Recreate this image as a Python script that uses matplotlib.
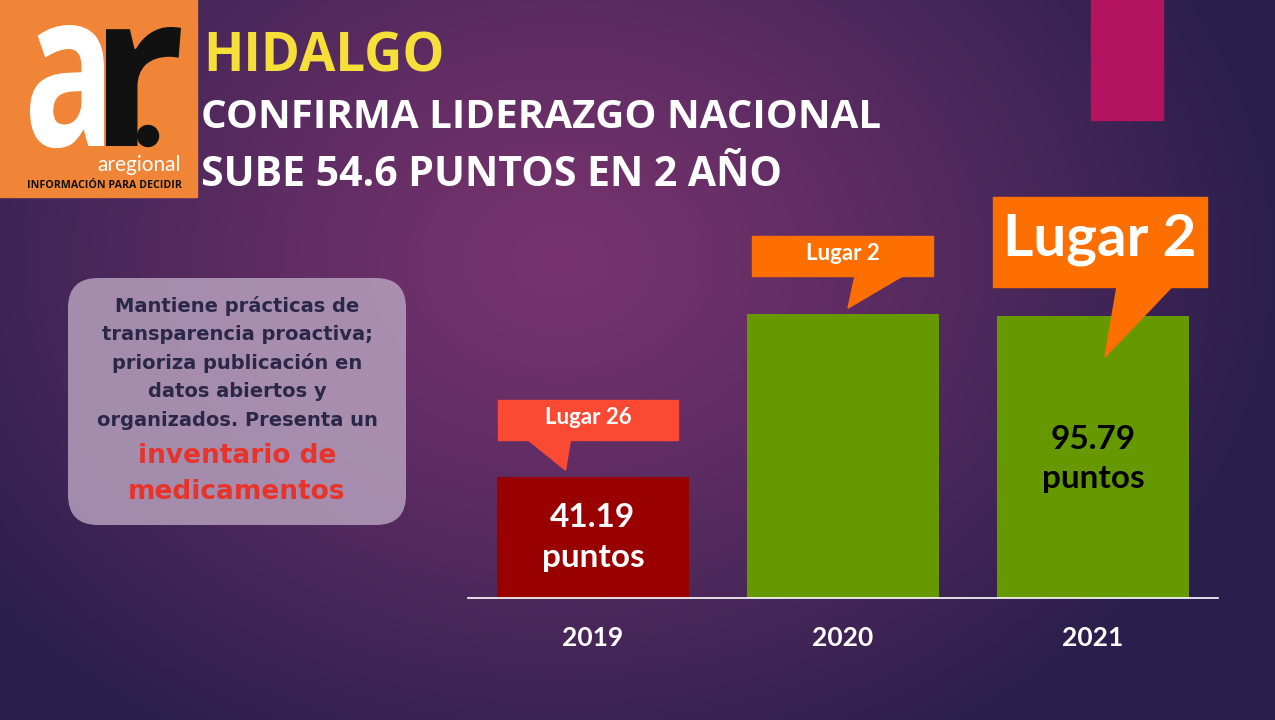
import numpy as np
import matplotlib.pyplot as plt
from matplotlib.patches import Rectangle, Polygon, FancyBboxPatch, PathPatch, Circle
from matplotlib.textpath import TextPath
from matplotlib.font_manager import FontProperties
from matplotlib.transforms import Affine2D

years = ['2019', '2020', '2021']
puntos = [41.19, 96.5, 95.79]
bar_labels = ['41.19\npuntos', '', '95.79\npuntos']
lugares = ['Lugar 26', 'Lugar 2', 'Lugar 2']

W, H = 1275, 720
fig = plt.figure(figsize=(W / 100, H / 100), dpi=100)

# background in pixel coords
bg = fig.add_axes([0, 0, 1, 1])
bg.set_xlim(0, W)
bg.set_ylim(H, 0)
bg.axis('off')
yy, xx = np.mgrid[0:H, 0:W]
r = np.sqrt(((xx - 560) / 720.0) ** 2 + ((yy - 260) / 560.0) ** 2)
r = np.clip(r, 0, 1) ** 1.2
c_in = np.array([0x78, 0x33, 0x6e]) / 255
c_out = np.array([0x2a, 0x1f, 0x4c]) / 255
img = c_in[None, None, :] * (1 - r[..., None]) + c_out[None, None, :] * r[..., None]
bg.imshow(img, extent=[0, W, H, 0], aspect='auto', zorder=0)


def glyph(ax, s, x0, x1, ytop, ybase, color):
    # fit a text path into a pixel box (logo letters)
    tp = TextPath((0, 0), s, size=100, prop=FontProperties(family='Open Sans', weight='bold'))
    ext = tp.get_extents()
    sx = (x1 - x0) / ext.width
    sy = (ybase - ytop) / ext.ymax
    tr = Affine2D().translate(-ext.xmin, 0).scale(sx, -sy).translate(x0, ybase)
    ax.add_patch(PathPatch(tr.transform_path(tp), facecolor=color, edgecolor='none', zorder=2))


# logo
bg.add_patch(Rectangle((0, 0), 197, 197, color='#f08538', zorder=1))
glyph(bg, 'a', 30, 104, 25, 146, 'white')
glyph(bg, 'r', 106, 181, 27, 146, '#111111')
bg.add_patch(Circle((148, 136), 10.5, color='#111111', zorder=2))
bg.text(181, 171, 'aregional', color='white', fontsize=15, family='Lato',
        ha='right', va='baseline', zorder=2)
bg.text(104, 188, 'INFORMACIÓN PARA DECIDIR', color='#111111', fontsize=7.7, fontweight='bold',
        family='Open Sans', ha='center', va='baseline', zorder=2)

# magenta block
bg.add_patch(Rectangle((1091, 0), 72, 120, color='#b3135f', zorder=1))

# titles
bg.text(203, 72, 'HIDALGO', color='#f7df3a', fontsize=38, fontweight='bold', family='Open Sans',
        ha='left', va='baseline')
bg.text(201, 128, 'CONFIRMA LIDERAZGO NACIONAL', color='white', fontsize=29, fontweight='bold',
        family='Open Sans', ha='left', va='baseline')
bg.text(201, 186, 'SUBE 54.6 PUNTOS EN 2 AÑO', color='white', fontsize=29.5, fontweight='bold',
        family='Open Sans', ha='left', va='baseline')

# text box
bg.add_patch(FancyBboxPatch((68 + 30, 278 + 30), 338 - 60, 247 - 60,
                            boxstyle='round,pad=30', facecolor='#b9a3c0', alpha=0.82,
                            edgecolor='none', zorder=1))
box_lines = ['Mantiene prácticas de', 'transparencia proactiva;', 'prioriza publicación en',
             'datos abiertos y', 'organizados. Presenta un']
for i, line in enumerate(box_lines):
    bg.text(237, 306 + i * 28.5, line, color='#2b2748', fontsize=14, fontweight='bold',
            family='DejaVu Sans', ha='center', va='center', zorder=2)
bg.text(237, 456, 'inventario de', color='#e8332a', fontsize=19, fontweight='bold',
        family='DejaVu Sans', ha='center', va='center', zorder=2)
bg.text(237, 492, 'medicamentos', color='#e8332a', fontsize=19, fontweight='bold',
        family='DejaVu Sans', ha='center', va='center', zorder=2)

# bar chart
ax = fig.add_axes([468 / W, 1 - 598 / H, 750 / W, 294 / H])
ax.patch.set_alpha(0)
x = np.arange(len(years))
colors = ['#990000', '#669900', '#669900']
ax.bar(x, puntos, width=0.77, color=colors, zorder=2)
ax.set_xlim(-0.5, 2.5)
ax.set_ylim(0, 100)
for s in ['top', 'right', 'left']:
    ax.spines[s].set_visible(False)
ax.spines['bottom'].set_color('white')
ax.spines['bottom'].set_linewidth(1.2)
ax.set_yticks([])
ax.set_xticks(x)
ax.set_xticklabels(years, color='white', fontsize=19, fontweight='bold', family='Lato')
ax.tick_params(axis='x', length=0, pad=20)

label_colors = ['white', 'black', 'black']
label_drop = [20.5, 0, 48.5]
for i, lab in enumerate(bar_labels):
    if lab:
        ax.text(x[i], puntos[i] - label_drop[i], lab, color=label_colors[i],
                fontsize=24, fontweight='bold', family='Lato', ha='center', va='center',
                linespacing=1.45, zorder=3)

# callouts: (rect x0, x1, y0, y1, tail base x0, x1, tip x, tip y) relative to bar
callouts = [
    (-0.38, 0.34, 53.7, 67.3, -0.26, -0.09, -0.11, 43.5, '#fb4a33', 16),
    (-0.364, 0.36, 109.5, 123.1, 0.048, 0.24, 0.02, 98.6, '#fd6f00', 16),
    (-0.4, 0.456, 105.8, 136.4, 0.096, 0.316, 0.048, 82.0, '#fd6f00', 42),
]
for i, (rx0, rx1, ry0, ry1, tx0, tx1, px, py, col, fs) in enumerate(callouts):
    ax.add_patch(Rectangle((x[i] + rx0, ry0), rx1 - rx0, ry1 - ry0, color=col,
                           clip_on=False, zorder=4))
    ax.add_patch(Polygon([(x[i] + tx0, ry0 + 0.1), (x[i] + tx1, ry0 + 0.1), (x[i] + px, py)],
                         closed=True, color=col, clip_on=False, zorder=4))
    ax.text(x[i] + (rx0 + rx1) / 2, (ry0 + ry1) / 2 + 0.8, lugares[i], color='white',
            fontsize=fs, fontweight='bold', family='Lato', ha='center', va='center',
            clip_on=False, zorder=5)

fig.savefig('out.png', dpi=100)
